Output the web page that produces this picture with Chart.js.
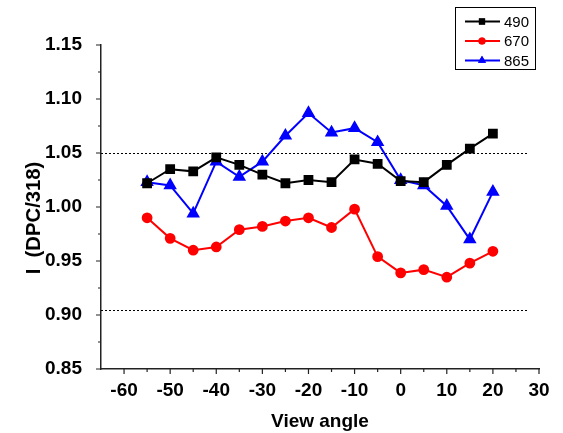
<!DOCTYPE html>
<html>
<head>
<meta charset="utf-8">
<script src="https://cdn.jsdelivr.net/npm/chart.js@4.4.0/dist/chart.umd.min.js"></script>
<style>
  html, body { margin: 0; padding: 0; background: #fff; }
  #wrap { width: 563px; height: 433px; position: relative; }
</style>
</head>
<body>
<div id="wrap"><canvas id="grafico"></canvas></div>
<script>
// angulos de visada
const angulos = [-55, -50, -45, -40, -35, -30, -25, -20, -15, -10, -5, 0, 5, 10, 15, 20];

// razao DPC/318 por banda
const banda490 = [1.022, 1.035, 1.033, 1.046, 1.039, 1.030, 1.022, 1.025, 1.023, 1.044, 1.040, 1.024, 1.023, 1.039, 1.054, 1.068];
const banda670 = [0.990, 0.971, 0.960, 0.963, 0.979, 0.982, 0.987, 0.990, 0.981, 0.998, 0.954, 0.939, 0.942, 0.935, 0.948, 0.959];
const banda865 = [1.023, 1.020, 0.994, 1.042, 1.028, 1.042, 1.066, 1.087, 1.069, 1.073, 1.060, 1.025, 1.020, 1.001, 0.970, 1.014];

// marcas dos eixos
const ticksX = [-60, -50, -40, -30, -20, -10, 0, 10, 20, 30];
const ticksXmenor = [-55, -45, -35, -25, -15, -5, 5, 15, 25];
const ticksY = [0.85, 0.90, 0.95, 1.00, 1.05, 1.10, 1.15];
const ticksYmenor = [0.875, 0.925, 0.975, 1.025, 1.075, 1.125];

// linhas de referencia pontilhadas
const referencias = [1.05, 0.905];
const refInicio = -65, refFim = 27.5;

const tituloY = 'I  (DPC/318)';

const pontos = (serie) => angulos.map((a, i) => ({ x: a, y: serie[i] }));

const fonte = '"Liberation Sans", Arial, sans-serif';

// marcas dos eixos, titulo vertical, linhas pontilhadas e legenda com borda
const extras = {
  id: 'extras',
  beforeDatasetsDraw(chart) {
    const ctx = chart.ctx;
    const sx = chart.scales.x, sy = chart.scales.y;
    ctx.save();
    ctx.strokeStyle = '#000';
    ctx.lineWidth = 1;
    ctx.setLineDash([2, 2]);
    referencias.forEach(v => {
      const y = Math.round(sy.getPixelForValue(v)) + 0.5;
      ctx.beginPath();
      ctx.moveTo(sx.getPixelForValue(refInicio), y);
      ctx.lineTo(sx.getPixelForValue(refFim), y);
      ctx.stroke();
    });
    ctx.restore();
  },
  afterDraw(chart) {
    const ctx = chart.ctx;
    const sx = chart.scales.x, sy = chart.scales.y;
    const area = chart.chartArea;
    ctx.save();
    ctx.setLineDash([]);
    ctx.strokeStyle = '#222';
    ctx.lineWidth = 1.2;
    ctx.beginPath();
    ticksX.forEach(v => {
      const x = sx.getPixelForValue(v);
      ctx.moveTo(x, area.bottom); ctx.lineTo(x, area.bottom + 5);
    });
    ticksXmenor.forEach(v => {
      const x = sx.getPixelForValue(v);
      ctx.moveTo(x, area.bottom); ctx.lineTo(x, area.bottom + 3);
    });
    ticksY.forEach(v => {
      const y = sy.getPixelForValue(v);
      ctx.moveTo(area.left, y); ctx.lineTo(area.left - 5, y);
    });
    ticksYmenor.forEach(v => {
      const y = sy.getPixelForValue(v);
      ctx.moveTo(area.left, y); ctx.lineTo(area.left - 3, y);
    });
    ctx.stroke();

    // titulo do eixo y, um pouco abaixo do centro
    ctx.save();
    ctx.translate(34, (area.top + area.bottom) / 2 + 11);
    ctx.rotate(-Math.PI / 2);
    ctx.font = 'bold 20.3px ' + fonte;
    ctx.fillStyle = '#000';
    ctx.textAlign = 'center';
    ctx.textBaseline = 'middle';
    ctx.fillText(tituloY, 0, 0);
    ctx.restore();

    // legenda
    const bx = 455.5, by = 7.5, bw = 80, bh = 62;
    ctx.lineWidth = 1;
    ctx.strokeStyle = '#000';
    ctx.strokeRect(bx, by, bw, bh);
    ctx.font = '15px ' + fonte;
    ctx.textBaseline = 'middle';
    ctx.textAlign = 'left';
    chart.data.datasets.forEach((ds, i) => {
      const y = 21.5 + i * 19.5;
      ctx.strokeStyle = ds.borderColor;
      ctx.lineWidth = 2;
      ctx.beginPath();
      ctx.moveTo(465, y); ctx.lineTo(500, y);
      ctx.stroke();
      ctx.fillStyle = ds.borderColor;
      Chart.helpers.drawPoint(ctx, { pointStyle: ds.pointStyle, radius: ds.pointRadius * 0.8, rotation: 0, borderWidth: 0 }, 482, y);
      ctx.fill();
      ctx.fillStyle = '#000';
      ctx.fillText(ds.label, 504, y + 1);
    });
    ctx.restore();
  }
};

new Chart(document.getElementById('grafico'), {
  type: 'line',
  data: {
    datasets: [
      { label: '490', data: pontos(banda490), borderColor: '#000', backgroundColor: '#000',
        pointStyle: 'rect', pointRadius: 5.5, borderWidth: 2, tension: 0 },
      { label: '670', data: pontos(banda670), borderColor: '#ff0000', backgroundColor: '#ff0000',
        pointStyle: 'circle', pointRadius: 4.4, borderWidth: 2, tension: 0 },
      { label: '865', data: pontos(banda865), borderColor: '#0000ff', backgroundColor: '#0000ff',
        pointStyle: 'triangle', pointRadius: 5.8, borderWidth: 2, tension: 0 }
    ]
  },
  options: {
    responsive: true,
    maintainAspectRatio: false,
    animation: false,
    layout: { padding: { top: 45, right: 24, left: 0, bottom: 0 } },
    plugins: {
      legend: { display: false },
      tooltip: { enabled: false }
    },
    elements: { point: { borderWidth: 0 } },
    scales: {
      x: {
        type: 'linear',
        min: -65,
        max: 30,
        afterBuildTicks: (s) => { s.ticks = ticksX.map(v => ({ value: v })); },
        afterFit: (s) => { s.height = 64; },
        grid: { display: false },
        border: { display: true, color: '#222', width: 1.5 },
        ticks: {
          color: '#000',
          padding: 2,
          maxRotation: 0,
          font: { family: fonte, size: 19, weight: 'bold' }
        },
        title: {
          display: true,
          text: 'View angle',
          color: '#000',
          padding: { top: 6, bottom: 0 },
          font: { family: fonte, size: 19, weight: 'bold' }
        }
      },
      y: {
        min: 0.85,
        max: 1.15,
        afterBuildTicks: (s) => { s.ticks = ticksY.map(v => ({ value: v })); },
        afterFit: (s) => { s.width = 101; },
        grid: { display: false },
        border: { display: true, color: '#222', width: 1.5 },
        ticks: {
          color: '#000',
          padding: 11,
          callback: (v) => Number(v).toFixed(2),
          font: { family: fonte, size: 19, weight: 'bold' }
        },
        title: { display: false }
      }
    }
  },
  plugins: [extras]
});
</script>
</body>
</html>
